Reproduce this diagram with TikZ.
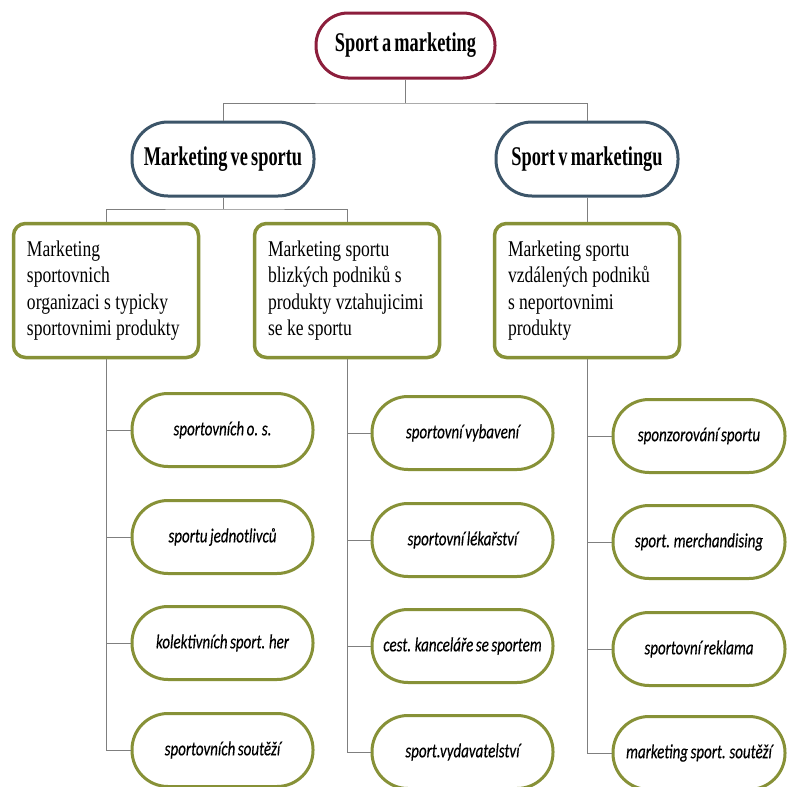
\documentclass[tikz,border=0pt]{standalone}
\usepackage{fontspec}
\setmainfont[FakeStretch=0.78]{Liberation Serif}
\newfontfamily\headfont[FakeStretch=0.68,WordSpace=0.7]{Liberation Serif}
\newfontfamily\leaffont[FakeStretch=0.75,WordSpace=0.75,FakeBold=0.3]{Carlito}
\newcommand\catsp{\spaceskip=4.4pt plus 1pt minus 1pt\relax\xspaceskip=4.4pt\relax}
\definecolor{crimson}{HTML}{8C1E3C}
\definecolor{slate}{HTML}{3C5569}
\definecolor{olive}{HTML}{879137}
\definecolor{conn}{HTML}{7F7F7F}
\tikzset{
  topbox/.style={draw=crimson, line width=3pt, rounded corners=32pt, fill=white,
    minimum width=179pt, minimum height=65pt, inner sep=0pt,
    font=\headfont\bfseries\fontsize{27}{30}\selectfont},
  midbox/.style={draw=slate, line width=3pt, rounded corners=36pt, fill=white,
    minimum width=182pt, minimum height=74pt, inner sep=0pt,
    font=\headfont\bfseries\fontsize{27}{30}\selectfont},
  catbox/.style={draw=olive, line width=3.5pt, rounded corners=12pt, fill=white,
    minimum width=185pt, minimum height=134pt, inner sep=0pt,
    text width=158pt, align=left, font=\fontsize{22.5}{26.5}\selectfont},
  leaf/.style={draw=olive, line width=3pt, rounded corners=36pt, fill=white,
    minimum width=181pt, minimum height=73pt, inner sep=0pt,
    font=\leaffont\itshape\fontsize{20}{22}\selectfont},
  conn/.style={draw=conn, line width=1pt}
}
\begin{document}
\begin{tikzpicture}[x=1pt,y=-1pt]
\useasboundingbox[fill=white] (0,0) rectangle (787,787);

\node[topbox] (top) at (405.5,45.5) {Sport a marketing};
\node[midbox] (mvs) at (223,159) {Marketing ve sportu};
\node[midbox] (svm) at (587,159) {Sport v marketingu};

\node[catbox] (c1) at (106,290.5) {\catsp Marketing\\sportovnich\\organizaci s typicky\\sportovnimi produkty};
\node[catbox] (c2) at (347,290.5) {\catsp Marketing sportu\\blizkých podniků s\\produkty vztahujicimi\\se ke sportu};
\node[catbox] (c3) at (587,290.5) {\catsp Marketing sportu\\vzdálených podniků\\s neportovnimi\\produkty};

\node[leaf] (l11) at (222.5,430) {sportovních o. s.};
\node[leaf] (l12) at (222.5,537) {sportu jednotlivců};
\node[leaf] (l13) at (222.5,643) {kolektivních sport. her};
\node[leaf] (l14) at (222.5,750) {sportovních soutěží};

\node[leaf] (l21) at (462.5,433) {sportovní vybavení};
\node[leaf] (l22) at (462.5,540) {sportovní lékařství};
\node[leaf] (l23) at (462.5,646) {cest. kanceláře se sportem};
\node[leaf] (l24) at (462.5,752) {sport.vydavatelství};

\node[leaf, minimum width=172pt] (l31) at (699,436) {sponzorování sportu};
\node[leaf, minimum width=172pt] (l32) at (699,542) {sport. merchandising};
\node[leaf, minimum width=172pt] (l33) at (699,649) {sportovní reklama};
\node[leaf, minimum width=172pt] (l34) at (699,753) {marketing sport. soutěží};

\coordinate (j0) at (405.5,103);
\coordinate (j1) at (223,209);

\draw[conn] (top.south) -- (j0);
\draw[conn] (mvs.north) |- (j0) -| (svm.north);
\draw[conn] (mvs.south) -- (j1);
\draw[conn] (c1.north) |- (j1) -| (c2.north);
\draw[conn] (svm.south) -- (c3.north);

\draw[conn] (c1.south) |- (l14.west);
\draw[conn] (c1.south |- l11.west) -- (l11.west);
\draw[conn] (c1.south |- l12.west) -- (l12.west);
\draw[conn] (c1.south |- l13.west) -- (l13.west);

\draw[conn] (c2.south) |- (l24.west);
\draw[conn] (c2.south |- l21.west) -- (l21.west);
\draw[conn] (c2.south |- l22.west) -- (l22.west);
\draw[conn] (c2.south |- l23.west) -- (l23.west);

\draw[conn] (c3.south) |- (l34.west);
\draw[conn] (c3.south |- l31.west) -- (l31.west);
\draw[conn] (c3.south |- l32.west) -- (l32.west);
\draw[conn] (c3.south |- l33.west) -- (l33.west);
\end{tikzpicture}
\end{document}
